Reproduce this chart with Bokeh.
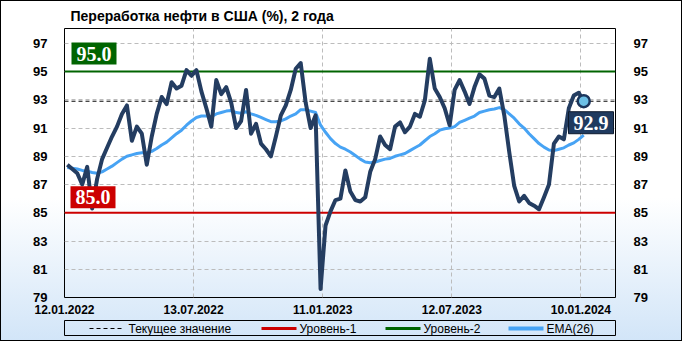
import pandas as pd
from bokeh.plotting import figure
from bokeh.models import Label, LinearAxis, Range1d
from bokeh.layouts import column
from bokeh.embed import file_html
from bokeh.resources import INLINE
from bokeh.core.properties import value

title_text = "Переработка нефти в США (%), 2 года"
origin = pd.Timestamp("2022-01-12")
dates = pd.date_range("2022-01-16", periods=105, freq="7D")
xs = [(d - origin).days for d in dates]

util = [
    88.4, 88.1, 87.8, 87.0, 88.25, 85.3, 87.4, 88.8, 89.6, 90.4,
    91.1, 92.0, 92.6, 90.1, 91.1, 90.6, 88.4, 90.4, 92.0, 93.2,
    92.7, 94.25, 93.8, 94.0, 95.1, 94.7, 95.1, 93.6, 92.4, 91.1,
    94.4, 93.4, 93.9, 92.8, 91.0, 91.5, 93.7, 90.6, 91.3, 89.9,
    89.5, 89.0, 90.4, 91.9, 92.6, 93.7, 95.2, 95.6, 92.8, 91.0,
    91.9, 79.6, 84.1, 85.1, 85.9, 86.0, 88.0, 86.5, 85.9, 85.8,
    86.1, 87.9, 88.8, 90.4, 89.8, 89.5, 91.1, 91.4, 90.7, 91.1,
    92.0, 91.8, 92.95, 95.9, 93.8, 93.2, 92.4, 91.2, 93.7, 94.4,
    93.6, 92.7, 93.9, 94.8, 94.5, 93.3, 93.2, 93.8, 91.9, 89.3,
    86.9, 85.8, 86.2, 85.7, 85.5, 85.25, 86.1, 87.0, 89.9, 90.4,
    90.2, 92.4, 93.3, 93.5, 92.9,
]

ema26 = [
    88.2, 88.15, 88.1, 88.0, 87.95, 87.85, 87.8, 87.9, 88.1, 88.3,
    88.55, 88.8, 89.0, 89.1, 89.2, 89.25, 89.25, 89.35, 89.55, 89.8,
    90.0, 90.3, 90.6, 90.85, 91.2, 91.5, 91.75, 91.85, 91.85, 91.8,
    92.0, 92.1, 92.2, 92.25, 92.1, 92.05, 92.15, 92.0, 91.9, 91.75,
    91.6, 91.45, 91.45, 91.5, 91.65, 91.85, 92.0, 92.3, 92.3, 92.2,
    92.1, 91.2, 90.7, 90.25, 89.9, 89.65, 89.5, 89.3, 89.05, 88.8,
    88.6, 88.55, 88.6, 88.7, 88.8, 88.85, 89.0, 89.1, 89.2, 89.4,
    89.6, 89.8, 90.1, 90.4, 90.6, 90.85, 90.95, 91.0, 91.1, 91.4,
    91.55, 91.7, 91.85, 92.1, 92.2, 92.3, 92.35, 92.45, 92.3, 92.0,
    91.7, 91.3, 91.0, 90.6, 90.25, 89.9, 89.65, 89.45, 89.4, 89.5,
    89.6, 89.8, 89.95, 90.2, 90.5,
]

level1 = 85.0
level2 = 95.0
current = util[-1]

tick_dates = ["2022-01-12", "2022-07-13", "2023-01-11", "2023-07-12", "2024-01-10"]
tick_labels = ["12.01.2022", "13.07.2022", "11.01.2023", "12.07.2023", "10.01.2024"]
tick_days = [(pd.Timestamp(t) - origin).days for t in tick_dates]
y_ticks = [79, 81, 83, 85, 87, 89, 91, 93, 95, 97]
legend_labels = ["Текущее значение", "Уровень-1", "Уровень-2", "EMA(26)"]

NAVY = "#243d61"
BLUE = "#47a3f4"
GREEN = "#006400"
RED = "#cc0000"

X0, X1 = 0, 776.8
p = figure(width=682, height=319, x_range=Range1d(X0, X1), y_range=Range1d(79, 98.05),
           output_backend="svg", toolbar_location=None,
           min_border_left=64, min_border_right=67, min_border_top=27, min_border_bottom=22)
p.background_fill_color = None
p.border_fill_color = None
p.outline_line_color = "black"
p.outline_line_width = 1

p.title.text = title_text
p.title.align = "left"
p.title.offset = 6
p.title.standoff = 10
p.title.text_font = "Liberation Sans"
p.title.text_font_size = "14px"
p.title.text_font_style = "bold"
p.title.text_color = "black"

p.xgrid.ticker = tick_days
p.ygrid.ticker = y_ticks
for g in (p.xgrid, p.ygrid):
    g.grid_line_color = "#bcbcbc"
    g.grid_line_dash = "4 3"
    g.grid_line_width = 1

xa = p.xaxis[0]
xa.ticker = tick_days
xa.major_label_overrides = dict(zip(tick_days, tick_labels))
xa.major_label_standoff = 1
xa.major_label_text_font = "Liberation Sans"
xa.major_label_text_font_size = "12px"
xa.major_label_text_font_style = "bold"
xa.major_label_text_color = "black"
xa.axis_line_color = None
xa.major_tick_line_color = None
xa.minor_tick_line_color = None

ya = p.yaxis[0]
yr = LinearAxis()
p.add_layout(yr, "right")
for ax, so in ((ya, 11), (yr, 12)):
    ax.ticker = y_ticks
    ax.major_label_standoff = so
    ax.major_label_text_font = "Liberation Sans"
    ax.major_label_text_font_size = "13px"
    ax.major_label_text_font_style = "bold"
    ax.major_label_text_color = "black"
    ax.axis_line_color = None
    ax.major_tick_line_color = None
    ax.minor_tick_line_color = None

p.line([X0, X1], [current, current], line_color="black", line_width=1, line_dash="4 3")
p.line([X0, X1], [level1, level1], line_color=RED, line_width=2)
p.line([X0, X1], [level2, level2], line_color=GREEN, line_width=2)
p.line(xs, ema26, line_color=BLUE, line_width=3, line_join="round")
p.line(xs, util, line_color=NAVY, line_width=4, line_join="round")
p.scatter([xs[-1]], [current], size=12, fill_color="#6cc0e6", line_color="#1b355c", line_width=2.5)


def box_label(x, y, txt, fill, yoff, border=None):
    return Label(x=x, y=y, x_units="screen", y_units="data", text=txt, y_offset=yoff,
                 text_font="Liberation Serif", text_font_style="bold", text_font_size="20px",
                 text_color="white", text_baseline="middle", text_align="left",
                 background_fill_color=fill, border_line_color=border, border_line_width=1,
                 padding=(5, 4))


p.add_layout(box_label(7, level2, f"{level2:.1f}", GREEN, 18))
p.add_layout(box_label(6, level1, f"{level1:.1f}", RED, 15.5))
p.add_layout(box_label(504, current, f"{current:.1f}", "#1f3a5f", -21.5, border="#0d1a2d"))

# legend strip
lf = figure(width=682, height=16, x_range=Range1d(0, 551), y_range=Range1d(0, 16),
            output_backend="svg", toolbar_location=None,
            min_border_left=64, min_border_right=67, min_border_top=0, min_border_bottom=0,
            x_axis_location=None, y_axis_location=None, margin=(1, 0, 0, 0))
lf.grid.visible = False
lf.background_fill_color = None
lf.border_fill_color = None
lf.outline_line_color = "black"
lf.outline_line_width = 1
lf.segment(x0=[25], y0=[8], x1=[58], y1=[8], line_color="black", line_width=1, line_dash="4 3")
lf.segment(x0=[197], y0=[8], x1=[232], y1=[8], line_color=RED, line_width=3)
lf.segment(x0=[321], y0=[8], x1=[356], y1=[8], line_color=GREEN, line_width=3)
lf.segment(x0=[444], y0=[8], x1=[479], y1=[8], line_color=BLUE, line_width=4)
lf.text(x=[64, 235, 359, 482], y=[8] * 4, text=legend_labels,
        text_font=value("Liberation Sans"), text_font_size="12px",
        text_baseline="middle", text_align="left", text_color="black")

layout = column(p, lf, width=682, height=341,
                styles={"background": "linear-gradient(180deg, #ffffff 0%, #ffffff 58%, #d2e5f8 100%)",
                        "box-shadow": "inset 0 0 0 1px #000000"})

open("out.html", "w").write(file_html(layout, INLINE))
